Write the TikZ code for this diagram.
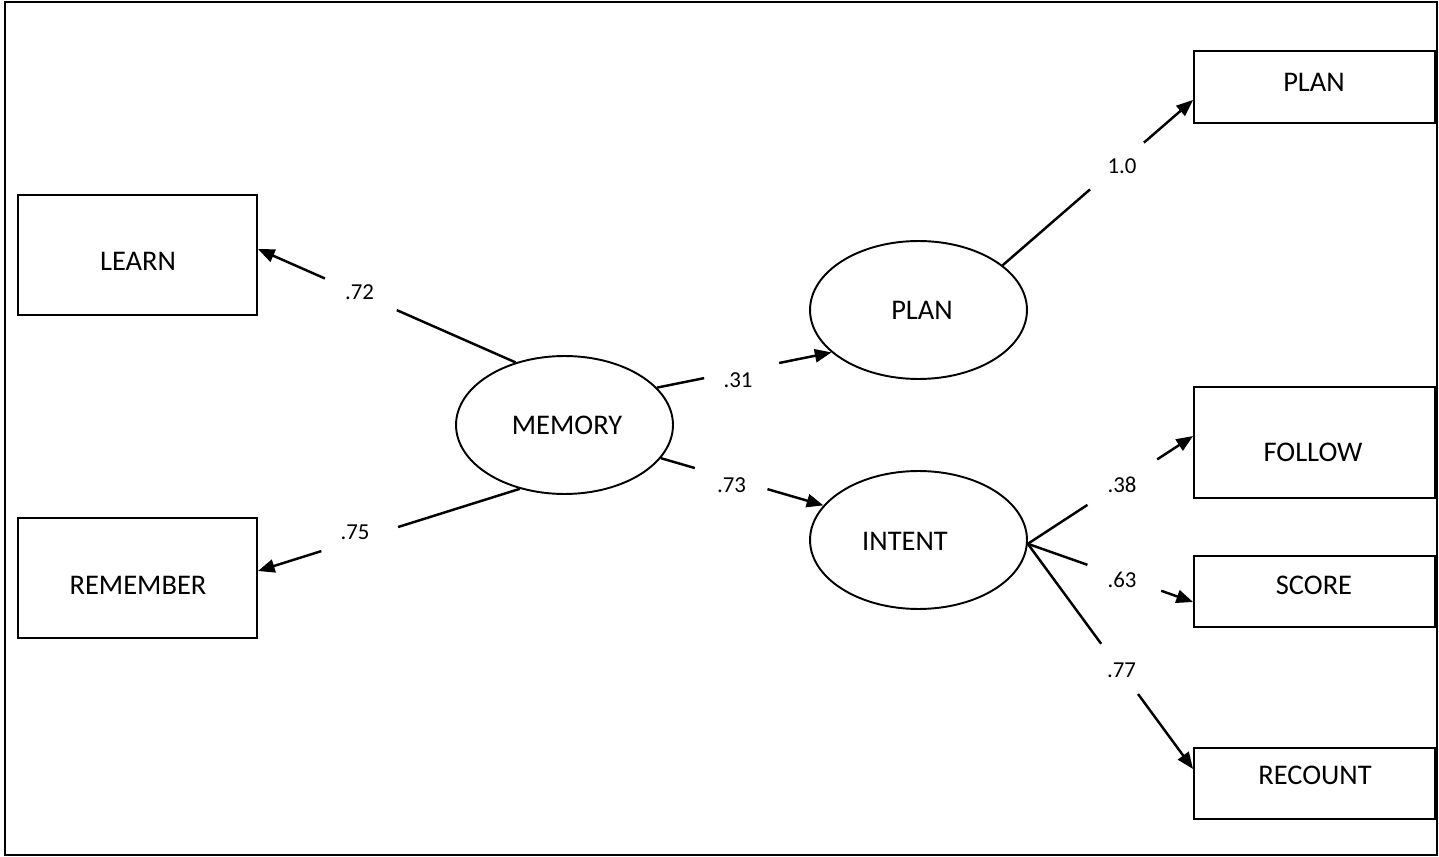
\documentclass[tikz,border=0pt]{standalone}
\usepackage{fontspec}
\setmainfont{Carlito}
\usetikzlibrary{arrows.meta,calc,shapes.geometric}
\begin{document}
\begin{tikzpicture}[x=0.02cm,y=-0.02cm,
  obs/.style={draw,line width=1.1pt,rectangle,inner sep=0},
  lat/.style={draw,line width=1.1pt,ellipse,inner sep=0,minimum width=4.34cm,minimum height=2.76cm},
  txt/.style={inner sep=0,font=\fontsize{16.2}{19}\selectfont},
  coef/.style={inner sep=0,font=\fontsize{13}{15}\selectfont},
  seg/.style={line width=1.4pt},
  arr/.style={line width=1.4pt,-{Triangle[length=9.5pt,width=7.5pt]}}]
\useasboundingbox (0,0) rectangle (1439,857);
\draw[line width=1.2pt] (5,2) rectangle (1437,855);

% observed boxes
\node[obs,minimum width=4.78cm,minimum height=2.4cm] (LEARN) at (137.5,255) {};
\node[obs,minimum width=4.78cm,minimum height=2.4cm] (REMEMBER) at (137.5,578) {};
\node[obs,minimum width=4.82cm,minimum height=1.44cm] (PLANb) at (1314.5,87) {};
\node[obs,minimum width=4.82cm,minimum height=2.22cm] (FOLLOW) at (1314.5,442.5) {};
\node[obs,minimum width=4.82cm,minimum height=1.42cm] (SCORE) at (1314.5,591.5) {};
\node[obs,minimum width=4.82cm,minimum height=1.42cm] (RECOUNT) at (1314.5,783.5) {};

% latent ellipses
\node[lat] (MEMORY) at (564.5,425) {};
\node[lat] (PLAN) at (918.5,310) {};
\node[lat] (INTENT) at (918.5,540) {};

% texts
\node[txt] (tLEARN) at (138,261) {LEARN};
\node[txt] (tREMEMBER) at (138,585) {REMEMBER};
\node[txt] (tPLANb) at (1314,82) {PLAN};
\node[txt] (tFOLLOW) at (1313,452) {FOLLOW};
\node[txt] (tSCORE) at (1314,585) {SCORE};
\node[txt] (tRECOUNT) at (1315,775) {RECOUNT};
\node[txt] (tMEMORY) at (567,425) {MEMORY};
\node[txt] (tPLAN) at (922,310) {PLAN};
\node[txt] (tINTENT) at (905,541) {INTENT};

% coefficient labels
\node[coef] (c72) at (359.5,292) {.72};
\node[coef] (c75) at (355,532) {.75};
\node[coef] (c31) at (738,380) {.31};
\node[coef] (c73) at (731.5,485) {.73};
\node[coef] (c10) at (1122,166.5) {1.0};
\node[coef] (c38) at (1122,485) {.38};
\node[coef] (c63) at (1122,580) {.63};
\node[coef] (c77) at (1121.5,670.5) {.77};

% end points
\coordinate (s72) at (MEMORY.128);
\coordinate (t72) at ($(LEARN.east)+(0,-6)$);
\coordinate (s75) at (MEMORY.235);
\coordinate (t75) at ($(REMEMBER.east)+(0,-7)$);
\coordinate (s31) at (MEMORY.22);
\coordinate (t31) at (PLAN.206);
\coordinate (s73) at (MEMORY.341.5);
\coordinate (t73) at (INTENT.160);
\coordinate (s10) at (PLAN.28);
\coordinate (t10) at ($(PLANb.west)+(0,13)$);
\coordinate (sI) at (INTENT.-2);
\coordinate (t38) at ($(FOLLOW.west)+(0,-6.5)$);
\coordinate (t63) at ($(SCORE.west)+(0,10.5)$);
\coordinate (t77) at ($(RECOUNT.west)+(0,-14.5)$);

% connectors with gaps for the labels
\draw[seg] (s72) -- ($(s72)!0.461!(t72)$);
\draw[arr] ($(s72)!0.74!(t72)$) -- (t72);
\draw[seg] (s75) -- ($(s75)!0.465!(t75)$);
\draw[arr] ($(s75)!0.758!(t75)$) -- (t75);
\draw[seg] (s31) -- ($(s31)!0.27!(t31)$);
\draw[arr] ($(s31)!0.70!(t31)$) -- (t31);
\draw[seg] (s73) -- ($(s73)!0.209!(t73)$);
\draw[arr] ($(s73)!0.656!(t73)$) -- (t73);
\draw[seg] (s10) -- ($(s10)!0.459!(t10)$);
\draw[arr] ($(s10)!0.742!(t10)$) -- (t10);
\draw[seg] (sI) -- ($(sI)!0.361!(t38)$);
\draw[arr] ($(sI)!0.783!(t38)$) -- (t38);
\draw[seg] (sI) -- ($(sI)!0.361!(t63)$);
\draw[arr] ($(sI)!0.807!(t63)$) -- (t63);
\draw[seg] (sI) -- ($(sI)!0.444!(t77)$);
\draw[arr] ($(sI)!0.667!(t77)$) -- (t77);
\end{tikzpicture}
\end{document}
